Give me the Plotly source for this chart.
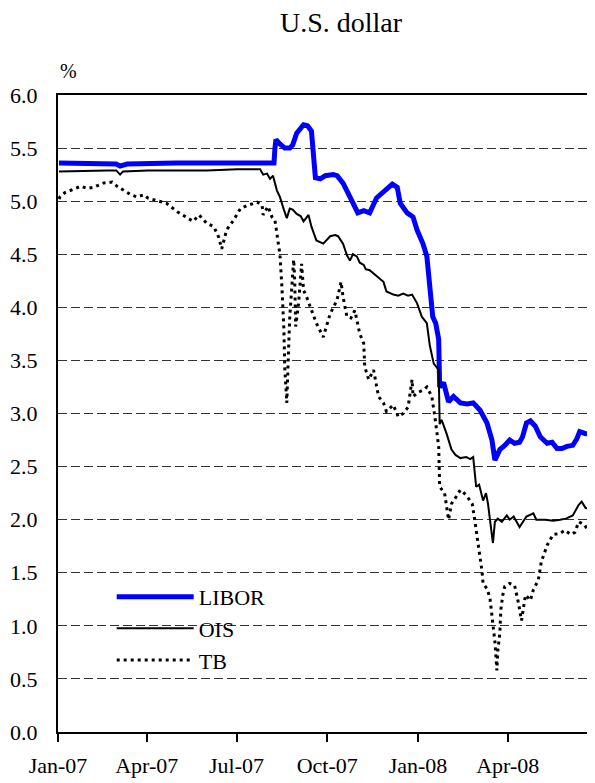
import plotly.graph_objects as go

# ---------------- data ----------------
libor_dates = [
    "2007-01-02", "2007-02-15", "2007-03-01", "2007-03-05", "2007-03-12", "2007-05-01",
    "2007-07-01", "2007-08-08", "2007-08-09", "2007-08-10", "2007-08-14", "2007-08-19",
    "2007-08-24", "2007-08-27", "2007-08-31", "2007-09-07", "2007-09-11", "2007-09-15",
    "2007-09-19", "2007-09-24", "2007-09-29", "2007-10-07", "2007-10-11", "2007-10-17",
    "2007-10-24", "2007-10-28", "2007-11-01", "2007-11-07", "2007-11-13", "2007-11-20",
    "2007-11-29", "2007-12-02", "2007-12-06", "2007-12-11", "2007-12-14", "2007-12-21",
    "2007-12-27", "2007-12-31", "2008-01-06", "2008-01-10", "2008-01-13", "2008-01-16",
    "2008-01-19", "2008-01-22", "2008-01-23", "2008-01-27", "2008-02-01", "2008-02-06",
    "2008-02-13", "2008-02-20", "2008-02-26", "2008-03-04", "2008-03-11", "2008-03-16",
    "2008-03-19", "2008-03-24", "2008-03-29", "2008-04-03", "2008-04-08", "2008-04-13",
    "2008-04-16", "2008-04-20", "2008-04-24", "2008-04-29", "2008-05-04", "2008-05-11",
    "2008-05-16", "2008-05-21", "2008-05-26", "2008-05-31", "2008-06-06", "2008-06-10",
    "2008-06-13", "2008-06-19", "2008-06-26", "2008-06-30",
]
libor_values = [
    5.36, 5.36, 5.35, 5.33, 5.35, 5.36,
    5.36, 5.36, 5.50, 5.58, 5.54, 5.50,
    5.50, 5.53, 5.64, 5.72, 5.71, 5.66,
    5.22, 5.21, 5.24, 5.25, 5.24, 5.17,
    5.04, 4.96, 4.89, 4.91, 4.89, 5.03,
    5.10, 5.12, 5.16, 5.13, 4.98, 4.89,
    4.85, 4.73, 4.60, 4.48, 4.16, 3.91,
    3.85, 3.70, 3.25, 3.29, 3.11, 3.16,
    3.10, 3.09, 3.10, 3.03, 2.91, 2.75,
    2.56, 2.66, 2.70, 2.75, 2.72, 2.73,
    2.78, 2.91, 2.93, 2.88, 2.78, 2.72,
    2.73, 2.67, 2.67, 2.69, 2.70, 2.76,
    2.83, 2.81, 2.81, 2.79,
]

ois_dates = [
    "2007-01-02", "2007-02-01", "2007-02-20", "2007-03-01", "2007-03-05", "2007-03-08",
    "2007-04-02", "2007-05-01", "2007-06-01", "2007-07-02", "2007-07-25", "2007-07-28",
    "2007-08-01", "2007-08-04", "2007-08-07", "2007-08-11", "2007-08-14", "2007-08-18",
    "2007-08-21", "2007-08-24", "2007-08-27", "2007-08-31", "2007-09-04", "2007-09-07",
    "2007-09-10", "2007-09-12", "2007-09-15", "2007-09-20", "2007-09-27", "2007-10-04",
    "2007-10-09", "2007-10-12", "2007-10-17", "2007-10-21", "2007-10-24", "2007-10-27",
    "2007-10-31", "2007-11-03", "2007-11-07", "2007-11-09", "2007-11-13", "2007-11-17",
    "2007-11-20", "2007-11-24", "2007-11-27", "2007-11-30", "2007-12-07", "2007-12-12",
    "2007-12-17", "2007-12-22", "2007-12-26", "2007-12-31", "2008-01-05", "2008-01-10",
    "2008-01-12", "2008-01-13", "2008-01-17", "2008-01-20", "2008-01-22", "2008-01-23",
    "2008-01-25", "2008-01-30", "2008-02-04", "2008-02-08", "2008-02-13", "2008-02-19",
    "2008-02-23", "2008-02-26", "2008-02-29", "2008-03-03", "2008-03-07", "2008-03-10",
    "2008-03-12", "2008-03-14", "2008-03-17", "2008-03-19", "2008-03-22", "2008-03-26",
    "2008-03-31", "2008-04-03", "2008-04-07", "2008-04-13", "2008-04-20", "2008-04-27",
    "2008-04-30", "2008-05-09", "2008-05-17", "2008-05-24", "2008-05-30", "2008-06-06",
    "2008-06-12", "2008-06-15", "2008-06-19", "2008-06-24", "2008-06-30",
]
ois_values = [
    5.28, 5.29, 5.29, 5.29, 5.25, 5.28,
    5.29, 5.29, 5.29, 5.30, 5.30, 5.25,
    5.26, 5.21, 5.24, 5.10, 5.04, 4.92,
    4.84, 4.93, 4.92, 4.88, 4.86, 4.81,
    4.85, 4.87, 4.76, 4.63, 4.60, 4.67,
    4.68, 4.67, 4.60, 4.49, 4.44, 4.50,
    4.48, 4.42, 4.40, 4.36, 4.35, 4.32,
    4.30, 4.27, 4.24, 4.15, 4.12, 4.11,
    4.13, 4.11, 4.12, 4.04, 3.91, 3.85,
    3.70, 3.64, 3.47, 3.44, 3.41, 2.90,
    2.94, 2.81, 2.66, 2.61, 2.58, 2.59,
    2.57, 2.59, 2.31, 2.33, 2.18, 2.25,
    2.15, 2.00, 1.78, 1.98, 2.01, 1.98,
    2.04, 2.00, 2.03, 1.93, 2.03, 2.06,
    2.00, 2.00, 1.99, 2.00, 2.01, 2.04,
    2.14, 2.17, 2.11, 2.10, 2.08,
]

tb_dates = [
    "2007-01-02", "2007-01-03", "2007-01-08", "2007-01-13", "2007-01-24", "2007-01-31",
    "2007-02-06", "2007-02-16", "2007-02-25", "2007-03-02", "2007-03-10", "2007-03-16",
    "2007-03-22", "2007-03-29", "2007-04-02", "2007-04-09", "2007-04-21", "2007-05-02",
    "2007-05-12", "2007-05-18", "2007-05-24", "2007-06-01", "2007-06-08", "2007-06-13",
    "2007-06-16", "2007-06-21", "2007-06-28", "2007-07-05", "2007-07-12", "2007-07-22",
    "2007-07-27", "2007-07-28", "2007-08-02", "2007-08-06", "2007-08-09", "2007-08-11",
    "2007-08-14", "2007-08-16", "2007-08-18", "2007-08-19", "2007-08-21", "2007-08-23",
    "2007-08-24", "2007-08-28", "2007-08-29", "2007-08-30", "2007-09-02", "2007-09-05",
    "2007-09-07", "2007-09-10", "2007-09-14", "2007-09-20", "2007-09-27", "2007-10-04",
    "2007-10-11", "2007-10-15", "2007-10-17", "2007-10-21", "2007-10-25", "2007-10-29",
    "2007-11-03", "2007-11-07", "2007-11-08", "2007-11-12", "2007-11-17", "2007-11-22",
    "2007-11-27", "2007-11-30", "2007-12-07", "2007-12-12", "2007-12-17", "2007-12-22",
    "2007-12-26", "2007-12-27", "2008-01-01", "2008-01-06", "2008-01-10", "2008-01-15",
    "2008-01-18", "2008-01-22", "2008-01-23", "2008-01-28", "2008-02-01", "2008-02-04",
    "2008-02-09", "2008-02-13", "2008-02-19", "2008-02-25", "2008-02-28", "2008-03-01",
    "2008-03-04", "2008-03-06", "2008-03-07", "2008-03-11", "2008-03-14", "2008-03-17",
    "2008-03-19", "2008-03-21", "2008-03-22", "2008-03-24", "2008-03-25", "2008-03-27",
    "2008-03-29", "2008-04-03", "2008-04-08", "2008-04-12", "2008-04-15", "2008-04-19",
    "2008-04-24", "2008-04-27", "2008-05-02", "2008-05-05", "2008-05-11", "2008-05-17",
    "2008-05-24", "2008-05-29", "2008-06-04", "2008-06-08", "2008-06-12", "2008-06-18",
    "2008-06-23", "2008-06-27", "2008-06-30",
]
tb_values = [
    5.02, 5.04, 5.08, 5.10, 5.14, 5.12,
    5.13, 5.17, 5.18, 5.14, 5.09, 5.06,
    5.04, 5.06, 5.03, 5.01, 4.98, 4.90,
    4.84, 4.81, 4.87, 4.79, 4.76, 4.66,
    4.55, 4.73, 4.82, 4.93, 4.96, 4.99,
    4.96, 4.87, 4.95, 4.85, 4.82, 4.70,
    4.50, 4.20, 3.80, 3.42, 3.10, 3.66,
    3.91, 4.45, 4.26, 3.82, 4.04, 4.41,
    4.16, 4.10, 4.00, 3.85, 3.72, 3.94,
    4.07, 4.24, 4.10, 3.91, 3.90, 3.97,
    3.75, 3.66, 3.44, 3.32, 3.41, 3.16,
    3.10, 3.02, 3.08, 2.97, 3.00, 3.06,
    3.32, 3.16, 3.20, 3.22, 3.25, 3.16,
    2.98, 2.69, 2.31, 2.25, 2.00, 2.15,
    2.22, 2.28, 2.23, 2.15, 1.97, 1.84,
    1.65, 1.51, 1.40, 1.35, 1.26, 1.02,
    0.85, 0.58, 0.77, 0.93, 1.15, 1.29,
    1.37, 1.40, 1.38, 1.21, 1.05, 1.29,
    1.24, 1.34, 1.43, 1.60, 1.76, 1.86,
    1.87, 1.90, 1.86, 1.88, 1.98, 1.95,
    1.87, 1.71, 1.65,
]

series_names = ["LIBOR", "OIS", "TB"]
x_tick_vals = ["2007-01-01", "2007-04-01", "2007-07-01", "2007-10-01", "2008-01-01", "2008-04-01"]
x_tick_text = ["Jan-07", "Apr-07", "Jul-07", "Oct-07", "Jan-08", "Apr-08"]
y_tick_vals = [0.0, 0.5, 1.0, 1.5, 2.0, 2.5, 3.0, 3.5, 4.0, 4.5, 5.0, 5.5, 6.0]

FONT = "'Liberation Serif', 'Times New Roman', Times, 'Nimbus Roman', 'DejaVu Serif', serif"

# the page body has an 8px margin, so the figure is sized/positioned to compensate
W, H = 587, 775

fig = go.Figure()
fig.add_trace(go.Scatter(x=libor_dates, y=libor_values, name=series_names[0], mode="lines",
                         line=dict(color="#0000FF", width=5)))
fig.add_trace(go.Scatter(x=ois_dates, y=ois_values, name=series_names[1], mode="lines",
                         line=dict(color="#000000", width=2)))
fig.add_trace(go.Scatter(x=tb_dates, y=tb_values, name=series_names[2], mode="lines",
                         line=dict(color="#000000", width=3, dash="3px,4px")))

fig.update_layout(
    width=W, height=H,
    margin=dict(l=50, r=0, t=87, b=51, autoexpand=False),
    paper_bgcolor="white", plot_bgcolor="white",
    font=dict(family=FONT, size=22, color="black"),
    title=dict(text="U.S. dollar", x=333 / W, xanchor="center", y=1 - 14 / H,
               yanchor="middle", font=dict(family=FONT, size=28, color="black")),
    showlegend=True,
    legend=dict(x=0.10, y=0.245, xanchor="left", yanchor="top", bgcolor="rgba(0,0,0,0)",
                font=dict(family=FONT, size=22, color="black"), itemwidth=77,
                tracegroupgap=0),
    xaxis=dict(type="date", range=["2007-01-01", "2008-06-28 12:00"],
               tickvals=x_tick_vals, ticktext=x_tick_text,
               ticks="outside", ticklen=8, tickwidth=2, tickcolor="black",
               showline=True, linecolor="black", linewidth=2, mirror=True,
               showgrid=False, zeroline=False, ticklabelstandoff=5,
               tickfont=dict(family=FONT, size=22, color="black")),
    yaxis=dict(range=[0, 6], tickvals=y_tick_vals, tickformat=".1f",
               ticks="", showline=True, linecolor="black", linewidth=2,
               showgrid=True, gridcolor="#333333", gridwidth=1, griddash="9px,4px",
               zeroline=False, ticklabelstandoff=14,
               tickfont=dict(family=FONT, size=22, color="black")),
    annotations=[dict(text="%", xref="paper", yref="paper", x=0, y=1, xshift=10, yshift=24,
                      showarrow=False, xanchor="center", yanchor="middle",
                      font=dict(family=FONT, size=20, color="black"))],
)

fig.write_html("out.html")
